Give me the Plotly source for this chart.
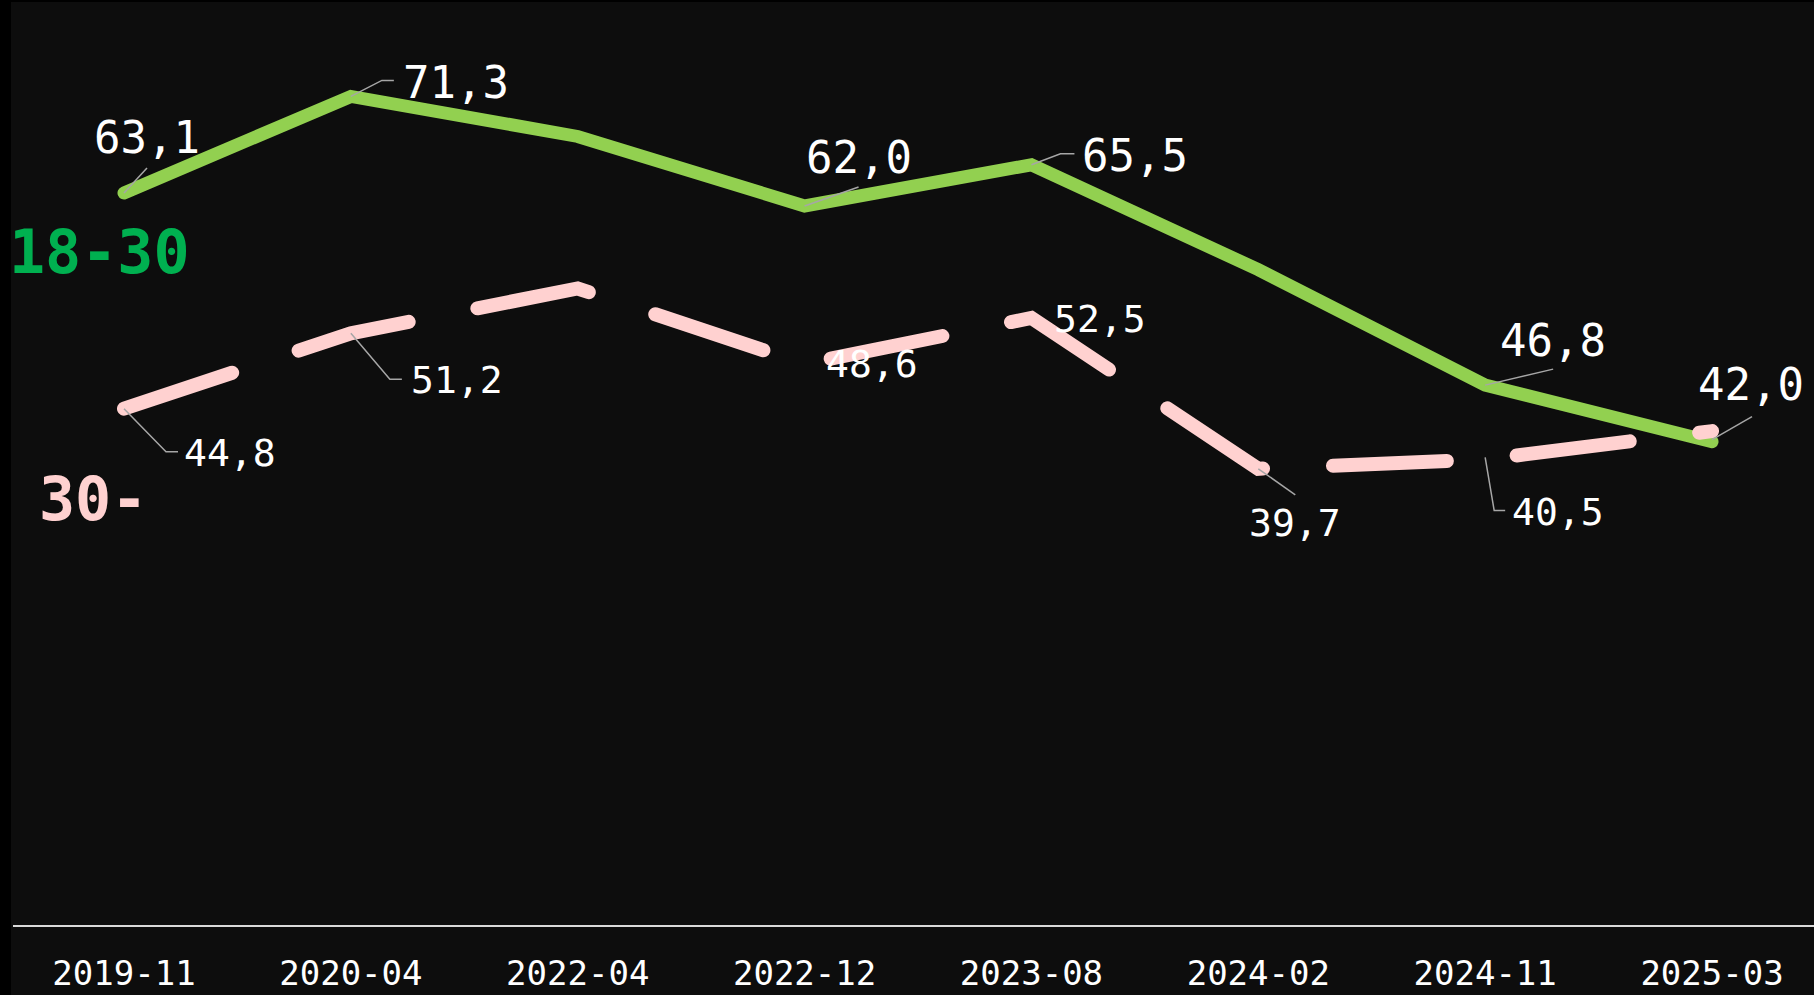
import plotly.graph_objects as go

# ---------------- data ----------------
dates = ["2019-11", "2020-04", "2022-04", "2022-12", "2023-08", "2024-02", "2024-11", "2025-03"]
young = [63.1, 71.3, 67.9, 62.0, 65.5, 56.6, 46.8, 42.0]   # 18-30
older = [44.8, 51.2, 55.0, 48.6, 52.5, 39.7, 40.5, 42.9]   # 30-
young_name = "18-30"
older_name = "30-"
young_labeled = [0, 1, 3, 4, 6, 7]
older_labeled = [0, 1, 3, 4, 5, 6]

# ---------------- styling / label placement (pixels, y downwards) ----------------
W, H = 1814, 995
ML, MR, MT, MB = 13, 0, 2, 70
FONT = "DejaVu Sans Mono"
GREEN_LINE = "#92d050"
GREEN_TXT = "#00b050"
PINK = "#ffd1d0"
BG = "#0d0d0d"
LEADER = "#a6a6a6"

young_place = {
    0: dict(tx=23, ty=-56, anchor="center", lead=[(0, 0), (23, -25)]),
    1: dict(tx=50, ty=-14, anchor="left", lead=[(0, 0), (31, -16), (43, -16)]),
    3: dict(tx=54, ty=-49, anchor="center", lead=[(0, 0), (54, -19)]),
    4: dict(tx=49, ty=-9, anchor="left", lead=[(0, 0), (29, -11), (43, -11)]),
    6: dict(tx=68, ty=-45, anchor="center", lead=[(0, 0), (68, -16)]),
    7: dict(tx=39, ty=-57, anchor="center", lead=[(0, -2), (40, -25)]),
}
older_place = {
    0: dict(tx=58, ty=44, anchor="left", lead=[(0, 0), (42, 43), (54, 43)]),
    1: dict(tx=58, ty=47, anchor="left", lead=[(0, 0), (39, 46), (51, 46)]),
    3: dict(tx=19, ty=0, anchor="left", lead=None),
    4: dict(tx=21, ty=1, anchor="left", lead=None),
    5: dict(tx=37, ty=54, anchor="center", lead=[(0, 0), (37, 26)]),
    6: dict(tx=25, ty=53, anchor="left", lead=[(0, -2), (9, 51), (20, 51)]),
}


def fmt(v):
    return f"{v:.1f}".replace(".", ",")


fig = go.Figure()
fig.add_trace(go.Scatter(x=dates, y=young, mode="lines", name=young_name,
                         line=dict(color=GREEN_LINE, width=13), hoverinfo="skip"))
fig.add_trace(go.Scatter(x=dates, y=older, mode="lines", name=older_name,
                         line=dict(color=PINK, width=14, dash="114px,70px"), hoverinfo="skip"))

annotations = []
shapes = []


def add_labels(values, labeled, place, size):
    for i in labeled:
        p = place[i]
        annotations.append(dict(
            x=dates[i], y=values[i], xref="x", yref="y", text=fmt(values[i]),
            showarrow=False, xanchor=p["anchor"], yanchor="middle",
            xshift=p["tx"], yshift=-p["ty"],
            font=dict(family=FONT, size=size, color="#ffffff")))
        if p["lead"]:
            pts = p["lead"]
            path = "M " + " L ".join(f"{dx} {-dy}" for dx, dy in pts)
            shapes.append(dict(type="path", xref="x", yref="y",
                               xsizemode="pixel", ysizemode="pixel",
                               xanchor=dates[i], yanchor=values[i], path=path,
                               line=dict(color=LEADER, width=1.5), layer="above"))


add_labels(young, young_labeled, young_place, 44)
add_labels(older, older_labeled, older_place, 38)

plot_w = W - ML - MR
plot_h = H - MT - MB

# series names
annotations.append(dict(x=0, y=(925 - 251.5) / plot_h, xref="paper", yref="paper",
                        text=f"<b>{young_name}</b>", showarrow=False, xanchor="left",
                        yanchor="middle", xshift=-6,
                        font=dict(family=FONT, size=60, color=GREEN_TXT)))
annotations.append(dict(x=0, y=(925 - 498.5) / plot_h, xref="paper", yref="paper",
                        text=f"<b>{older_name}</b>", showarrow=False, xanchor="left",
                        yanchor="middle", xshift=24,
                        font=dict(family=FONT, size=60, color=PINK)))

# black page strips on left / top
shapes.append(dict(type="rect", xref="paper", yref="paper",
                   x0=-ML / plot_w - 0.01, x1=-2 / plot_w, y0=-MB / plot_h - 0.01, y1=1 + MT / plot_h + 0.01,
                   fillcolor="#000000", line=dict(width=0), layer="below"))
shapes.append(dict(type="rect", xref="paper", yref="paper",
                   x0=-ML / plot_w - 0.01, x1=1.01, y0=1, y1=1 + MT / plot_h + 0.01,
                   fillcolor="#000000", line=dict(width=0), layer="below"))

spacing = 226.86
x0 = -(124 - ML) / spacing
x1 = x0 + plot_w / spacing

fig.update_layout(
    width=W, height=H,
    margin=dict(l=ML, r=MR, t=MT, b=MB, pad=0, autoexpand=False),
    paper_bgcolor=BG, plot_bgcolor=BG,
    showlegend=False,
    annotations=annotations, shapes=shapes,
    xaxis=dict(type="category", range=[x0, x1], showgrid=False, zeroline=False,
               automargin=False,
               showline=True, linecolor="#d9d9d9", linewidth=2, ticks="",
               ticklabelstandoff=17,
               tickfont=dict(family=FONT, size=34, color="#ffffff")),
    yaxis=dict(range=[0.99, 79.31], showgrid=False, zeroline=False, showline=False,
               automargin=False,
               showticklabels=False, ticks=""),
    font=dict(family=FONT, color="#ffffff"),
)

post = """
document.body.style.margin='0';
document.body.style.background='#000';
var gd = document.getElementById('{plot_id}');
function rc(){ gd.querySelectorAll('.scatterlayer .js-line').forEach(function(p){ p.style.strokeLinecap='round'; }); }
rc();
gd.on('plotly_afterplot', rc);
"""
fig.write_html("out.html", post_script=post, config={"displayModeBar": False})
